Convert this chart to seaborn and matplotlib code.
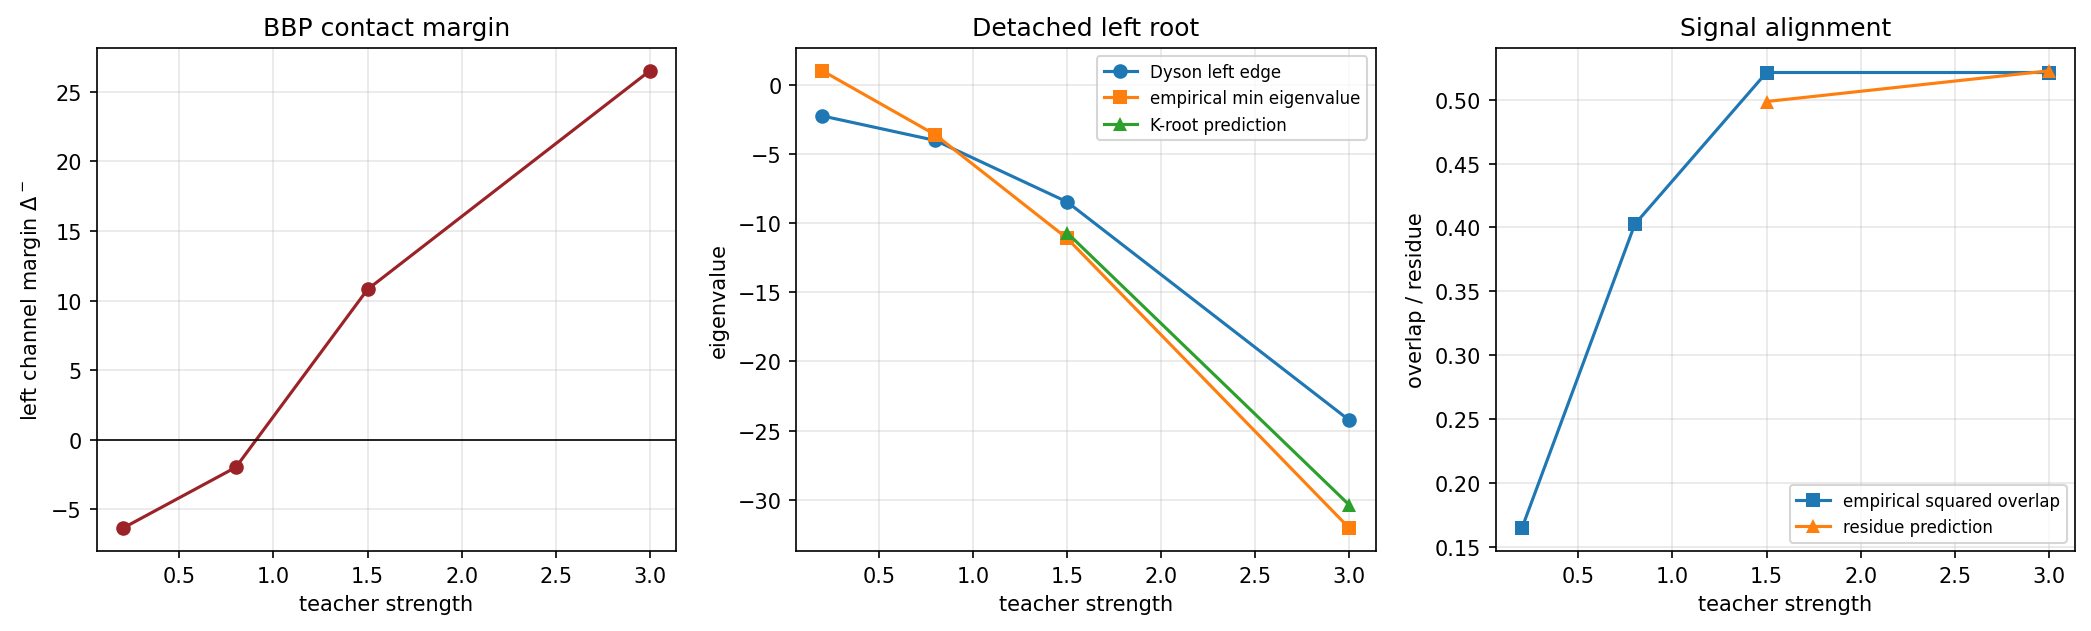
import matplotlib
matplotlib.use("Agg")
import matplotlib.pyplot as plt
import seaborn as sns
import numpy as np

strength = [0.2, 0.8, 1.5, 3.0]
margin = [-6.35, -1.98, 10.8, 26.5]

dyson_edge = [-2.26, -4.03, -8.47, -24.25]
emp_min_eig = [1.0, -3.62, -11.1, -32.05]
kroot_x = [1.5, 3.0]
kroot_pred = [-10.7, -30.38]

overlap = [0.1648, 0.4025, 0.5212, 0.5212]
residue_x = [1.5, 3.0]
residue_pred = [0.4985, 0.5225]

plt.rcParams['font.family'] = ['DejaVu Sans']

fig, axes = plt.subplots(1, 3, figsize=(2091/150, 632/150), dpi=150)

ax = axes[0]
sns.lineplot(x=strength, y=margin, marker='o', color='#9b2226', markersize=7,
             markeredgewidth=0, linewidth=1.5, ax=ax)
ax.axhline(0, color='black', linewidth=0.8)
ax.set_title("BBP contact margin")
ax.set_xlabel("teacher strength")
ax.set_ylabel("left channel margin $\\Delta^-$")
ax.grid(alpha=0.3)

ax = axes[1]
sns.lineplot(x=strength, y=dyson_edge, marker='o', color='#1f77b4', markersize=7,
             markeredgewidth=0, linewidth=1.5, ax=ax, label="Dyson left edge")
sns.lineplot(x=strength, y=emp_min_eig, marker='s', color='#ff7f0e', markersize=7,
             markeredgewidth=0, linewidth=1.5, ax=ax, label="empirical min eigenvalue")
sns.lineplot(x=kroot_x, y=kroot_pred, marker='^', color='#2ca02c', markersize=7,
             markeredgewidth=0, linewidth=1.5, ax=ax, label="K-root prediction")
ax.set_title("Detached left root")
ax.set_xlabel("teacher strength")
ax.set_ylabel("eigenvalue")
ax.grid(alpha=0.3)
ax.legend(fontsize=8, loc='upper right')

ax = axes[2]
sns.lineplot(x=strength, y=overlap, marker='s', color='#1f77b4', markersize=7,
             markeredgewidth=0, linewidth=1.5, ax=ax, label="empirical squared overlap")
sns.lineplot(x=residue_x, y=residue_pred, marker='^', color='#ff7f0e', markersize=7,
             markeredgewidth=0, linewidth=1.5, ax=ax, label="residue prediction")
ax.set_title("Signal alignment")
ax.set_xlabel("teacher strength")
ax.set_ylabel("overlap / residue")
ax.grid(alpha=0.3)
ax.legend(fontsize=8, loc='lower right')

fig.subplots_adjust(left=0.0462, right=0.9924, top=0.9225, bottom=0.1266, wspace=0.207)
fig.savefig("out.png", dpi=150)
